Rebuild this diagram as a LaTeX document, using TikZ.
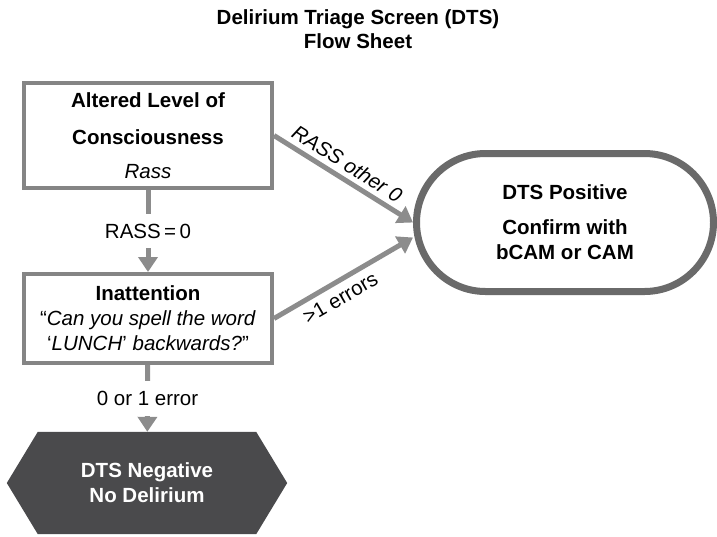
\documentclass[tikz,border=0pt]{standalone}
\usepackage{fontspec}
\setmainfont{Liberation Sans}
\usetikzlibrary{arrows.meta,shapes.misc,calc,backgrounds}
\definecolor{boxgray}{HTML}{858585}
\definecolor{arrgray}{HTML}{8C8C8C}
\definecolor{ovalgray}{HTML}{6A6A6A}
\definecolor{hexfill}{HTML}{4A4A4C}
\begin{document}
\begin{tikzpicture}[x=1pt,y=-1pt,
  every node/.style={font=\fontsize{20.5}{25}\selectfont, inner sep=0pt},
  procbox/.style={draw=boxgray, line width=4pt, fill=white, minimum width=248pt, align=center},
  flow/.style={draw=arrgray, line width=5pt, -{Triangle[width=19pt,length=15pt]}},
  flowlabel/.style={fill=white, inner xsep=3pt, inner ysep=10pt},
  termpos/.style={rounded rectangle, draw=ovalgray, line width=7pt, fill=white,
    minimum width=297pt, minimum height=138pt, align=center},
  termneg/.style={minimum width=218pt, minimum height=102pt, align=center, text=white}
]
\useasboundingbox (0,0) rectangle (717,536);

\node[align=center, font=\fontsize{20.5}{24}\selectfont\bfseries] (title) at (358,29)
  {Delirium Triage Screen (DTS)\\Flow Sheet};

\node[procbox, minimum height=105pt] (b1) at (148,135.5)
  {\textbf{Altered Level of}\\[12pt]\textbf{Consciousness}\\[9pt]\textit{Rass}};

\node[procbox, minimum height=89pt] (b2) at (148,318.5)
  {\textbf{Inattention}\\“\textit{Can you spell the word}\\‘\textit{LUNCH}’ \textit{backwards?}”};

\node[termpos] (pos) at (565,222.5)
  {\textbf{DTS Positive}\\[10pt]\textbf{Confirm with}\\\textbf{bCAM or CAM}};

\node[termneg] (neg) at (147,483)
  {\textbf{DTS Negative}\\\textbf{No Delirium}};
\begin{scope}[on background layer]
  \fill[hexfill] (neg.north west) -- (neg.north east) -- ($(neg.east)+(31,0)$)
    -- (neg.south east) -- (neg.south west) -- ($(neg.west)+(-31,0)$) -- cycle;
\end{scope}

\draw[flow] (b1) -- node[flowlabel] {RASS\,=\,0} (b2);
\draw[flow] (b2) -- node[flowlabel] {0 or 1 error} (neg);
\draw[flow] (b1.east) -- node[pos=0.47, sloped, above=5pt] {\textit{RASS other 0}} (pos.west);
\draw[flow] (b2.east) -- node[pos=0.42, sloped, below=6pt] {>1 errors} ([yshift=-15pt]pos.west);
\end{tikzpicture}
\end{document}
